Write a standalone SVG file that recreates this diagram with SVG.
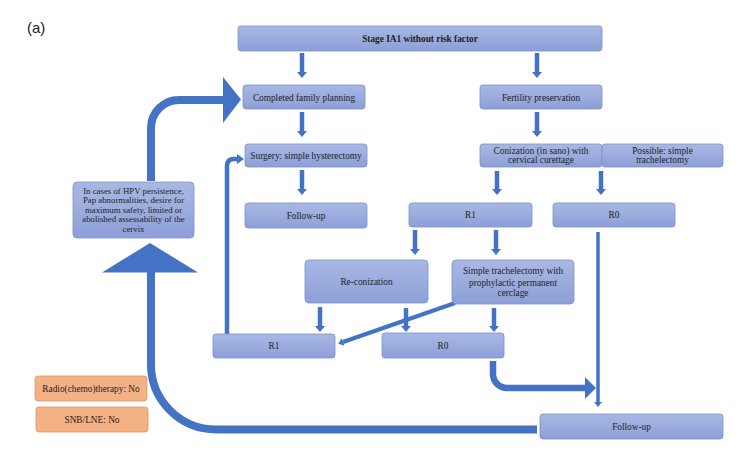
<svg xmlns="http://www.w3.org/2000/svg" width="749" height="463" viewBox="0 0 749 463">
<defs>
<linearGradient id="bg" x1="0" y1="0" x2="0" y2="1">
<stop offset="0" stop-color="#a9b8e4"/>
<stop offset="1" stop-color="#8c9fd7"/>
</linearGradient>
<marker id="ah" markerUnits="userSpaceOnUse" markerWidth="11" markerHeight="11" refX="0" refY="5" orient="auto" overflow="visible">
<path d="M0,0 L6,5 L0,10 z" fill="#4472c4"/>
</marker>
<marker id="ahs" markerUnits="userSpaceOnUse" markerWidth="9" markerHeight="9" refX="0" refY="4" orient="auto" overflow="visible">
<path d="M0,0 L5,4 L0,8 z" fill="#4472c4"/>
</marker>
</defs>
<style>
.b{fill:url(#bg);stroke:#7b8fcc;stroke-width:0.8}
.o{fill:#f4b183;stroke:#d9976b;stroke-width:0.8}
text{font-family:"Liberation Serif","Times New Roman",serif;font-size:9.3px;fill:#1f1f1f;text-anchor:middle}
.t{font-weight:bold}
.sm{font-size:8.8px}
.c line,.c path.s{stroke:#4472c4;fill:none}
.a{stroke-width:4.5;marker-end:url(#ah)}
.h{fill:#4472c4}
</style>
<rect width="749" height="463" fill="#ffffff"/>
<text x="27" y="33" style="font-family:'Liberation Sans',Arial,sans-serif;font-size:15px;text-anchor:start;fill:#222">(a)</text>

<g class="c" id="connectors">
<line class="a" x1="302" y1="53" x2="302" y2="72"/>
<line class="a" x1="537" y1="53" x2="537" y2="72"/>
<line class="a" x1="302" y1="112" x2="302" y2="131"/>
<line class="a" x1="537" y1="112" x2="537" y2="131"/>
<line class="a" x1="302" y1="170" x2="302" y2="189"/>
<line class="a" x1="497" y1="171" x2="497" y2="189"/>
<line class="a" x1="601" y1="171" x2="601" y2="189"/>
<line class="a" x1="415" y1="230" x2="415" y2="249"/>
<line class="a" x1="496" y1="230" x2="496" y2="249"/>
<line class="a" x1="320" y1="307" x2="320" y2="326"/>
<line class="a" x1="406" y1="308" x2="406" y2="326"/>
<line class="a" x1="494" y1="308" x2="494" y2="326"/>
<line x1="598" y1="232" x2="598" y2="402" stroke-width="3.5" marker-end="url(#ahs)"/>
<line x1="455" y1="303" x2="343" y2="342" stroke-width="4" marker-end="url(#ahs)"/>
<path class="s" d="M227 334 V166 Q227 159 234 159 H238" stroke-width="4.5"/>
<polygon class="h" points="237,154 244,159 237,164"/>
<path class="s" d="M493 361 V374 A14 14 0 0 0 507 388 H586" stroke-width="6.5"/>
<polygon class="h" points="585,377 596,388 585,399"/>
<path class="s" d="M151 181 V128 A28 28 0 0 1 179 100 H224" stroke-width="8"/>
<polygon class="h" points="223,77 241,99.5 223,123"/>
<path class="s" d="M151 272 V364 A65 65 0 0 0 216 429.5 H537" stroke-width="8"/>
<polygon class="h" points="102,272.5 150,243 198,272.5"/>
</g>

<g id="stage"><rect class="b" x="238" y="26" width="364" height="25" rx="3"/><text class="t" x="420" y="42">Stage IA1 without risk factor</text></g>
<g id="cfp"><rect class="b" x="243" y="85" width="122" height="24" rx="3"/><text x="304" y="100.5">Completed family planning</text></g>
<g id="fertility"><rect class="b" x="480" y="85" width="122" height="24" rx="3"/><text x="541" y="100.5">Fertility preservation</text></g>
<g id="surgery"><rect class="b" x="245" y="144" width="122" height="23" rx="3"/><text x="306" y="158.5">Surgery: simple hysterectomy</text></g>
<g id="conization"><rect class="b" x="480" y="144" width="122" height="23" rx="3"/><text x="541" y="153.5">Conization (in sano) with</text><text x="541" y="162.5">cervical curettage</text></g>
<g id="possible"><rect class="b" x="602" y="144" width="121" height="23" rx="3"/><text x="662.5" y="153.5">Possible: simple</text><text x="662.5" y="162.5">trachelectomy</text></g>
<g id="followup1"><rect class="b" x="245" y="203" width="122" height="25" rx="3"/><text x="306" y="218.5">Follow-up</text></g>
<g id="r1a"><rect class="b" x="409" y="203" width="123" height="24" rx="3"/><text x="470.5" y="218">R1</text></g>
<g id="r0a"><rect class="b" x="553" y="203" width="122" height="24" rx="3"/><text x="614" y="218">R0</text></g>
<g id="hpv"><rect class="b" x="73" y="182" width="121" height="56" rx="4"/>
<text class="sm" x="133.5" y="193.5">In cases of HPV persistence,</text>
<text class="sm" x="133.5" y="203">Pap abnormalities, desire for</text>
<text class="sm" x="133.5" y="212.5">maximum safety, limited or</text>
<text class="sm" x="133.5" y="222">abolished assessability of the</text>
<text class="sm" x="133.5" y="231.5">cervix</text></g>
<g id="reconization"><rect class="b" x="305" y="260" width="123" height="43" rx="4"/><text x="366.5" y="284.5">Re-conization</text></g>
<g id="trach"><rect class="b" x="452" y="260" width="122" height="44" rx="4"/><text x="513" y="274">Simple trachelectomy with</text><text x="513" y="286">prophylactic permanent</text><text x="513" y="295.5">cerclage</text></g>
<g id="r1b"><rect class="b" x="213" y="334" width="122" height="24" rx="3"/><text x="274" y="349">R1</text></g>
<g id="r0b"><rect class="b" x="382" y="333" width="122" height="25" rx="3"/><text x="443" y="349">R0</text></g>
<g id="followup2"><rect class="b" x="540" y="414" width="183" height="25" rx="3"/><text x="631.5" y="430">Follow-up</text></g>
<g id="radio"><rect class="o" x="35" y="376" width="112" height="25" rx="3"/><text x="91" y="391.5">Radio(chemo)therapy: No</text></g>
<g id="snb"><rect class="o" x="36" y="407" width="112" height="25" rx="3"/><text x="92" y="422.5">SNB/LNE: No</text></g>
</svg>
